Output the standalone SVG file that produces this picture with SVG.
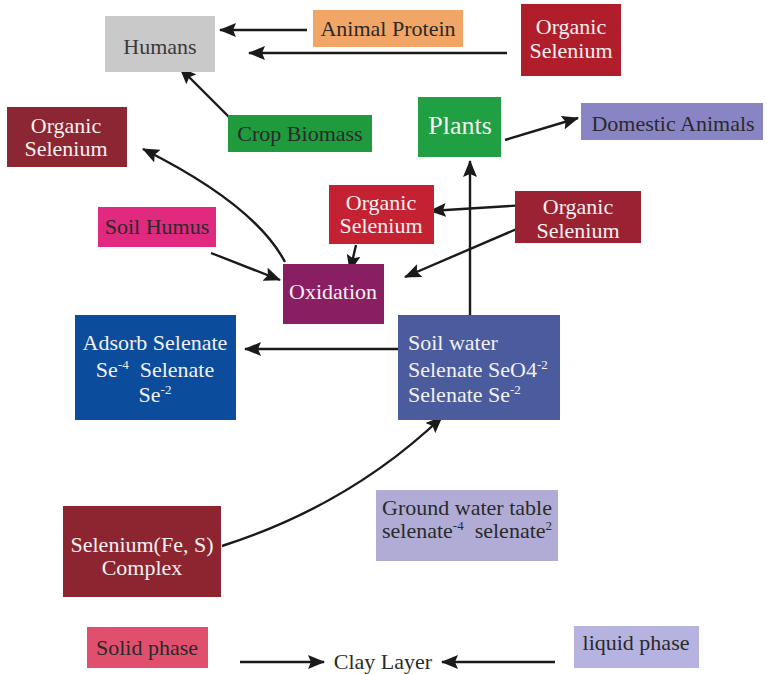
<svg xmlns="http://www.w3.org/2000/svg" width="767" height="674" viewBox="0 0 767 674">
  <defs>
    <marker id="arrow" markerUnits="userSpaceOnUse" markerWidth="18" markerHeight="14" refX="16" refY="7" orient="auto">
      <path d="M0,0 L17,7 L0,14 L3,7 Z" fill="#1a1a1a"/>
    </marker>
  </defs>
  <rect width="767" height="674" fill="#ffffff"/>

  <!-- connectors: shared stroke and arrowhead on the group -->
  <g id="connectors" fill="none" stroke="#1a1a1a" stroke-width="2.4" marker-end="url(#arrow)">
    <line x1="307" y1="30" x2="220" y2="30"/>
    <line x1="507" y1="53" x2="249" y2="53"/>
    <line x1="232" y1="120" x2="180" y2="68"/>
    <line x1="505" y1="140" x2="578" y2="118"/>
    <path d="M285,262 Q255,205 143,149"/>
    <line x1="211" y1="253" x2="280" y2="280"/>
    <line x1="526" y1="205" x2="430" y2="211"/>
    <line x1="519" y1="228" x2="405" y2="277"/>
    <line x1="356" y1="245" x2="350" y2="271"/>
    <line x1="470" y1="316" x2="470" y2="161"/>
    <line x1="399" y1="349" x2="245" y2="349"/>
    <path d="M222,546 Q350,505 442,417"/>
    <line x1="240" y1="662" x2="324" y2="662"/>
    <line x1="555" y1="662" x2="442" y2="662"/>
  </g>

  <g id="humans">
    <rect x="105" y="16" width="110" height="56" fill="#c9c9c9"/>
    <text x="160" y="54" text-anchor="middle" fill="#3a3a3a" font-family="Liberation Serif" font-size="22">Humans</text>
  </g>
  <g id="animal-protein">
    <rect x="313" y="10" width="150" height="37" fill="#f1a567"/>
    <text x="388" y="36" text-anchor="middle" fill="#2a2a2a" font-family="Liberation Serif" font-size="22">Animal Protein</text>
  </g>
  <g id="organic-selenium-top">
    <rect x="521" y="4" width="100" height="72" fill="#b01d2b"/>
    <text x="571" y="34" text-anchor="middle" fill="#f4f0f0" font-family="Liberation Serif" font-size="22">Organic</text>
    <text x="571" y="58" text-anchor="middle" fill="#f4f0f0" font-family="Liberation Serif" font-size="22">Selenium</text>
  </g>
  <g id="crop-biomass">
    <rect x="228" y="115" width="144" height="37" fill="#1f9a3d"/>
    <text x="300" y="141" text-anchor="middle" fill="#2a2a2a" font-family="Liberation Serif" font-size="22">Crop Biomass</text>
  </g>
  <g id="plants">
    <rect x="418" y="97" width="83" height="60" fill="#20a042"/>
    <text x="460" y="134" text-anchor="middle" fill="#f4f0f0" font-family="Liberation Serif" font-size="26">Plants</text>
  </g>
  <g id="domestic-animals">
    <rect x="581" y="103" width="182" height="37" fill="#8985c5"/>
    <text x="673" y="131" text-anchor="middle" fill="#2a2a2a" font-family="Liberation Serif" font-size="22">Domestic Animals</text>
  </g>
  <g id="organic-selenium-left">
    <rect x="7" y="107" width="120" height="60" fill="#8c2632"/>
    <text x="66" y="133" text-anchor="middle" fill="#f4f0f0" font-family="Liberation Serif" font-size="22">Organic</text>
    <text x="66" y="156" text-anchor="middle" fill="#f4f0f0" font-family="Liberation Serif" font-size="22">Selenium</text>
  </g>
  <g id="soil-humus">
    <rect x="98" y="207" width="118" height="40" fill="#e0297f"/>
    <text x="157" y="234" text-anchor="middle" fill="#2a2a2a" font-family="Liberation Serif" font-size="22">Soil Humus</text>
  </g>
  <g id="organic-selenium-mid">
    <rect x="329" y="185" width="105" height="59" fill="#c42232"/>
    <text x="381" y="210" text-anchor="middle" fill="#f4f0f0" font-family="Liberation Serif" font-size="22">Organic</text>
    <text x="381" y="233" text-anchor="middle" fill="#f4f0f0" font-family="Liberation Serif" font-size="22">Selenium</text>
  </g>
  <g id="organic-selenium-right">
    <rect x="515" y="191" width="126" height="52" fill="#9a2232"/>
    <text x="578" y="214" text-anchor="middle" fill="#f4f0f0" font-family="Liberation Serif" font-size="22">Organic</text>
    <text x="578" y="238" text-anchor="middle" fill="#f4f0f0" font-family="Liberation Serif" font-size="22">Selenium</text>
  </g>
  <g id="oxidation">
    <rect x="283" y="264" width="101" height="60" fill="#8a1e62"/>
    <text x="333" y="299" text-anchor="middle" fill="#f4f0f0" font-family="Liberation Serif" font-size="22">Oxidation</text>
  </g>
  <g id="adsorb-selenate">
    <rect x="75" y="315" width="161" height="105" fill="#0b4c9c"/>
    <text x="155" y="350" text-anchor="middle" fill="#f4f0f0" font-family="Liberation Serif" font-size="22">Adsorb Selenate</text>
    <text x="155" y="377" text-anchor="middle" fill="#f4f0f0" font-family="Liberation Serif" font-size="22">Se<tspan font-size="13" dy="-8">-4</tspan><tspan dy="8" xml:space="preserve">  Selenate</tspan></text>
    <text x="155" y="402" text-anchor="middle" fill="#f4f0f0" font-family="Liberation Serif" font-size="22">Se<tspan font-size="13" dy="-8">-2</tspan></text>
  </g>
  <g id="soil-water">
    <rect x="398" y="315" width="162" height="105" fill="#4a5c9e"/>
    <text x="408" y="350" fill="#f4f0f0" font-family="Liberation Serif" font-size="22">Soil water</text>
    <text x="408" y="377" fill="#f4f0f0" font-family="Liberation Serif" font-size="22">Selenate SeO4<tspan font-size="13" dy="-8">-2</tspan></text>
    <text x="408" y="402" fill="#f4f0f0" font-family="Liberation Serif" font-size="22">Selenate Se<tspan font-size="13" dy="-8">-2</tspan></text>
  </g>
  <g id="selenium-complex">
    <rect x="63" y="506" width="158" height="91" fill="#8c2530"/>
    <text x="142" y="552" text-anchor="middle" fill="#f4f0f0" font-family="Liberation Serif" font-size="22">Selenium(Fe, S)</text>
    <text x="142" y="575" text-anchor="middle" fill="#f4f0f0" font-family="Liberation Serif" font-size="22">Complex</text>
  </g>
  <g id="ground-water-table">
    <rect x="376" y="490" width="182" height="71" fill="#b0acd6"/>
    <text x="467" y="515" text-anchor="middle" fill="#2a2a2a" font-family="Liberation Serif" font-size="22">Ground water table</text>
    <text x="467" y="538" text-anchor="middle" fill="#2a2a2a" font-family="Liberation Serif" font-size="22">selenate<tspan font-size="13" dy="-8">-4</tspan><tspan dy="8" xml:space="preserve">  selenate</tspan><tspan font-size="13" dy="-8">2</tspan></text>
  </g>
  <g id="solid-phase">
    <rect x="87" y="627" width="121" height="41" fill="#e0506e"/>
    <text x="147" y="655" text-anchor="middle" fill="#2a2a2a" font-family="Liberation Serif" font-size="22">Solid phase</text>
  </g>
  <g id="clay-layer">
    <text x="383" y="669" text-anchor="middle" fill="#2a2a2a" font-family="Liberation Serif" font-size="22">Clay Layer</text>
  </g>
  <g id="liquid-phase">
    <rect x="574" y="626" width="125" height="42" fill="#b7b3e0"/>
    <text x="636" y="650" text-anchor="middle" fill="#2a2a2a" font-family="Liberation Serif" font-size="22">liquid phase</text>
  </g>
</svg>
